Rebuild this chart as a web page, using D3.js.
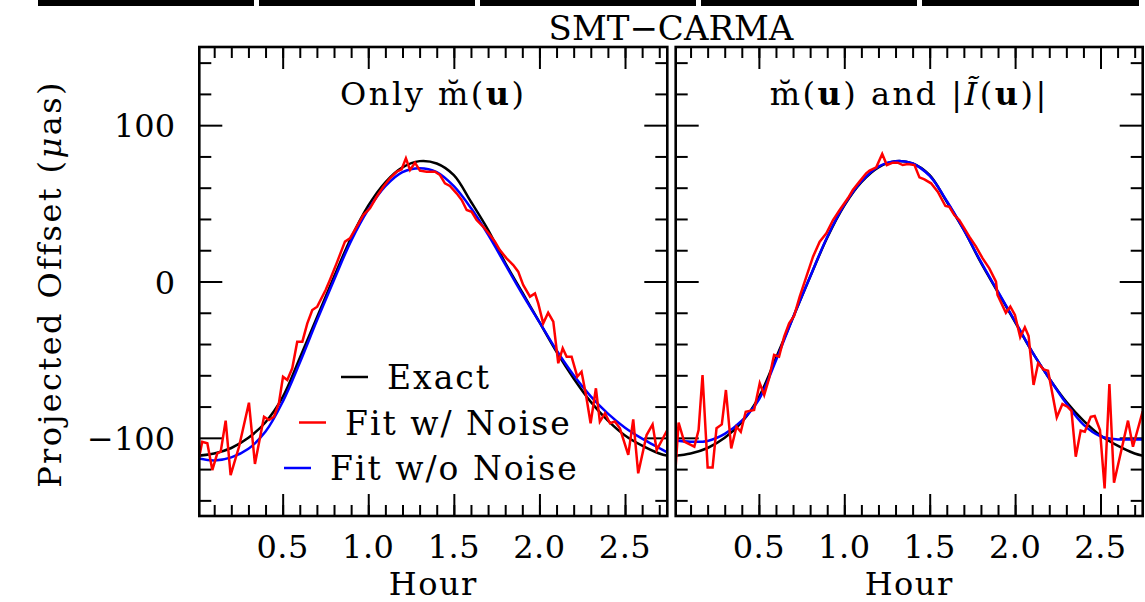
<!DOCTYPE html>
<html>
<head>
<meta charset="utf-8">
<script src="https://cdn.jsdelivr.net/npm/d3@7"></script>
<style>
html, body { margin: 0; padding: 0; background: #fff; }
svg text { font-family: "DejaVu Serif", serif; fill: #000; }
</style>
</head>
<body>
<svg id="chart" width="1145" height="602"></svg>
<script>
// smooth curves, sampled every 0.1 hour
var hours = [0, 0.1, 0.2, 0.3, 0.4, 0.5, 0.6, 0.7, 0.8, 0.9, 1.0, 1.1, 1.2, 1.3, 1.4,
	1.5, 1.6, 1.7, 1.8, 1.9, 2.0, 2.1, 2.2, 2.3, 2.4, 2.5, 2.6, 2.7, 2.75];
var exact = [-111.5, -110, -106.5, -100, -90, -74, -49, -23, 3, 28, 48.5, 63.5, 73, 77, 75.5,
	68, 51, 33, 12, -7, -26, -45, -62, -77, -89, -98.5, -105, -110, -111.5];
var fitCleanM = [-113, -114.5, -112.5, -107, -96, -77, -52, -25, 1, 26, 46, 61, 70, 72.5, 70,
	61, 47, 30, 11, -8, -26, -44, -60, -73.5, -84.5, -93.5, -100.5, -106.5, -109.5];
var fitCleanMI = [-101.5, -102.5, -102, -97.5, -89, -75.5, -50.5, -23, 3, 28.5, 49, 64, 73.5, 77, 75.5,
	67.5, 51.5, 33, 12.5, -6.5, -25.5, -45, -62, -78, -91.5, -99, -101, -101, -101];

// noisy fits (left panel: only m, right panel: m and |I|)
var noisyHoursM = [0.011, 0.030, 0.060, 0.089, 0.118, 0.138, 0.167, 0.196, 0.245, 0.303, 0.338, 0.391,
	0.420, 0.449, 0.478, 0.502, 0.527, 0.556, 0.585, 0.615, 0.644, 0.673, 0.702, 0.751, 0.776,
	0.815, 0.864, 0.893, 0.932, 0.971, 1.010, 1.049, 1.088, 1.127, 1.166, 1.195, 1.220, 1.244,
	1.273, 1.302, 1.341, 1.390, 1.419, 1.448, 1.477, 1.516, 1.546, 1.575, 1.604, 1.633, 1.672,
	1.711, 1.740, 1.769, 1.808, 1.847, 1.876, 1.905, 1.945, 1.974, 1.993, 2.022, 2.051, 2.081,
	2.110, 2.136, 2.159, 2.188, 2.221, 2.246, 2.272, 2.299, 2.330, 2.353, 2.383, 2.412, 2.441,
	2.470, 2.519, 2.548, 2.577, 2.626, 2.661, 2.685, 2.747];
var noisyM = [-113.1, -102.5, -103.5, -120.6, -109.9, -108.9, -89.0, -123.8, -105.7, -77.5, -116.7, -86.5,
	-88.6, -86.5, -77.9, -60.9, -63, -55.5, -38.5, -38.5, -26.8, -18.2, -16.1, -5.4, 1.0,
	11.6, 25.5, 27.6, 35.0, 42.5, 46.8, 54.2, 60.6, 66.0, 70.2, 71.8, 78.8, 71.3,
	76.0, 70.9, 70.2, 70.2, 68.1, 62.8, 61.1, 56.4, 52.1, 45.7, 44.6, 39.3, 35.0,
	29.7, 25.5, 20.1, 14.8, 10.5, 6.3, -2.2, -9.7, -7.6, -14.0, -26.8, -20.0, -25.7,
	-52.3, -42.7, -48.1, -48.1, -60.9, -57.7, -72.6, -90.7, -68.3, -89.6, -84.3, -90.7, -89.6,
	-93.9, -110.9, -88.2, -122.7, -98.2, -91.4, -107.8, -95];
var noisyHoursMI = [0.013, 0.030, 0.063, 0.122, 0.147, 0.170, 0.200, 0.229, 0.252, 0.283, 0.307, 0.338,
	0.369, 0.394, 0.423, 0.472, 0.505, 0.531, 0.560, 0.589, 0.618, 0.648, 0.677, 0.706, 0.739,
	0.778, 0.817, 0.856, 0.895, 0.934, 0.973, 1.021, 1.050, 1.089, 1.128, 1.148, 1.187, 1.222,
	1.249, 1.284, 1.313, 1.342, 1.372, 1.411, 1.440, 1.469, 1.508, 1.547, 1.592, 1.615, 1.644,
	1.673, 1.703, 1.732, 1.771, 1.810, 1.849, 1.888, 1.897, 1.946, 1.972, 1.999, 2.030, 2.057,
	2.079, 2.108, 2.135, 2.166, 2.193, 2.244, 2.277, 2.306, 2.330, 2.355, 2.384, 2.408, 2.443,
	2.466, 2.497, 2.524, 2.552, 2.579, 2.618, 2.661, 2.690, 2.747];
var noisyMI = [-118.5, -90.3, -102.5, -105.7, -95.0, -59.8, -118.9, -118.9, -93.9, -91.4, -69.4, -106.8,
	-92.9, -96.1, -83.3, -82.2, -65.1, -72.6, -61.9, -47.0, -48.1, -35.3, -26.8, -22.1, -9.7,
	3.1, 15.9, 25.5, 30.8, 39.3, 45.7, 53.2, 58.5, 63.9, 69.2, 70.9, 73.0, 81.6,
	74.5, 76.0, 76.0, 74.5, 75.2, 74.5, 66.6, 65.3, 62.8, 57.4, 48.3, 47.8, 42.5,
	39.3, 34.0, 28.7, 22.3, 14.8, 8.4, -0.1, -8.6, -20.0, -16.1, -21.4, -35.7, -29.3,
	-34.9, -66.2, -52.3, -56.2, -57.1, -86.9, -78.4, -80.1, -82.7, -112.1, -95.4, -96.1, -86.5,
	-86.0, -95.0, -132.3, -65.6, -128.7, -109.9, -89.0, -105.7, -83];

var xTickLabels = ["0.5", "1.0", "1.5", "2.0", "2.5"];
var yTickLabels = ["\u2212100", "0", "100"];
var legendLabels = ["Exact", "Fit w/ Noise", "Fit w/o Noise"];
var legendColors = ["#000", "#f00", "#00f"];

var svg = d3.select("#chart");
var yTop = 47, yBottom = 516;
var xDomain = [0.013, 2.747];
var yScale = d3.scaleLinear().domain([-150, 150]).range([yBottom, yTop]);

// strip of the row above, cut by the picture edge
[[38, 254], [259, 475], [480, 696], [701, 917], [922, 1139]].forEach(function(s) {
	svg.append("rect").attr("x", s[0]).attr("y", 0).attr("width", s[1] - s[0]).attr("height", 6).attr("fill", "#000");
});

svg.append("text").attr("x", 671).attr("y", 40).attr("text-anchor", "middle")
	.style("font-size", "34px").text("SMT\u2212CARMA");

svg.append("text")
	.attr("transform", "translate(61,284) rotate(-90)")
	.attr("text-anchor", "middle").style("font-size", "32px").style("letter-spacing", "2.4px")
	.call(function(t) {
		t.append("tspan").text("Projected Offset (");
		t.append("tspan").style("font-style", "italic").text("\u03bc");
		t.append("tspan").text("as)");
	});

function toPoints(xs, ys) {
	return xs.map(function(h, i) { return [h, ys[i]]; });
}

function drawPanel(idx, x0, x1, clean, noisyH, noisyV, titleFn) {
	var x = d3.scaleLinear().domain(xDomain).range([x0, x1]);
	var g = svg.append("g");
	var minorX = d3.range(1, 28).map(function(i) { return i / 10; });
	var majorX = [0.5, 1.0, 1.5, 2.0, 2.5];
	var minorY = d3.range(-140, 141, 20).filter(function(v) { return v % 100 != 0; });
	var majorY = [-100, 0, 100];

	function ticks(axis, vals, size, tr) {
		var a = g.append("g").attr("transform", tr)
			.call(axis.tickValues(vals).tickSize(size).tickFormat(""));
		a.select(".domain").remove();
		a.selectAll("line").attr("stroke", "#000").attr("stroke-width", 2);
	}
	ticks(d3.axisBottom(x), minorX, -11, "translate(0," + yBottom + ")");
	ticks(d3.axisBottom(x), majorX, -22, "translate(0," + yBottom + ")");
	ticks(d3.axisTop(x), minorX, -11, "translate(0," + yTop + ")");
	ticks(d3.axisTop(x), majorX, -22, "translate(0," + yTop + ")");
	ticks(d3.axisLeft(yScale), minorY, -12, "translate(" + x0 + ",0)");
	ticks(d3.axisLeft(yScale), majorY, -23, "translate(" + x0 + ",0)");
	ticks(d3.axisRight(yScale), minorY, -12, "translate(" + x1 + ",0)");
	ticks(d3.axisRight(yScale), majorY, -23, "translate(" + x1 + ",0)");

	g.selectAll(".xlab").data(majorX).enter().append("text")
		.attr("x", function(d) { return x(d); }).attr("y", 558)
		.attr("text-anchor", "middle").style("font-size", "32px").style("letter-spacing", "0.5px")
		.text(function(d, i) { return xTickLabels[i]; });
	g.append("text").attr("x", (x0 + x1) / 2).attr("y", 595)
		.attr("text-anchor", "middle").style("font-size", "32px").style("letter-spacing", "1.5px").text("Hour");

	if (idx == 0) {
		g.selectAll(".ylab").data(majorY).enter().append("text")
			.attr("x", 175).attr("y", function(d) { return yScale(d) + 12; })
			.attr("text-anchor", "end").style("font-size", "32px")
			.text(function(d, i) { return yTickLabels[i]; });
	}

	var clipId = "clip" + idx;
	svg.append("clipPath").attr("id", clipId).append("rect")
		.attr("x", x0).attr("y", yTop).attr("width", x1 - x0).attr("height", yBottom - yTop);
	var lines = g.append("g").attr("clip-path", "url(#" + clipId + ")");
	var smooth = d3.line().x(function(d) { return x(d[0]); }).y(function(d) { return yScale(d[1]); })
		.curve(d3.curveCatmullRom);
	var rough = d3.line().x(function(d) { return x(d[0]); }).y(function(d) { return yScale(d[1]); });

	lines.append("path").attr("d", smooth(toPoints(hours, exact)))
		.attr("fill", "none").attr("stroke", "#000").attr("stroke-width", 2.5);
	lines.append("path").attr("d", smooth(toPoints(hours, clean)))
		.attr("fill", "none").attr("stroke", "#00f").attr("stroke-width", 2.5);
	lines.append("path").attr("d", rough(toPoints(noisyH, noisyV)))
		.attr("fill", "none").attr("stroke", "#f00").attr("stroke-width", 2.5);

	g.append("rect").attr("x", x0).attr("y", yTop).attr("width", x1 - x0).attr("height", yBottom - yTop)
		.attr("fill", "none").attr("stroke", "#000").attr("stroke-width", 2.6);

	var title = g.append("text").attr("x", (x0 + x1) / 2).attr("y", 105)
		.attr("text-anchor", "middle").style("font-size", "32px").style("letter-spacing", "2.5px");
	titleFn(title);

	if (idx == 0) {
		// legend, text starts and line ends as in the figure
		var textX = [387, 345, 330];
		legendLabels.forEach(function(lab, i) {
			var yy = 377 + i * 45.5;
			g.append("line").attr("x1", textX[i] - 46).attr("x2", textX[i] - 19)
				.attr("y1", yy).attr("y2", yy)
				.attr("stroke", legendColors[i]).attr("stroke-width", 2.5);
			g.append("text").attr("x", textX[i]).attr("y", yy + 12)
				.style("font-size", "33px").style("letter-spacing", "2px").text(lab);
		});
	}
}

drawPanel(0, 199.3, 667.3, fitCleanM, noisyHoursM, noisyM, function(t) {
	t.append("tspan").text("Only m\u0306(");
	t.append("tspan").style("font-weight", "bold").text("u");
	t.append("tspan").text(")");
});
drawPanel(1, 675.7, 1142.7, fitCleanMI, noisyHoursMI, noisyMI, function(t) {
	t.append("tspan").text("m\u0306(");
	t.append("tspan").style("font-weight", "bold").text("u");
	t.append("tspan").text(") and |");
	t.append("tspan").style("font-style", "italic").text("I\u0303");
	t.append("tspan").text("(");
	t.append("tspan").style("font-weight", "bold").text("u");
	t.append("tspan").text(")|");
});
</script>
</body>
</html>
